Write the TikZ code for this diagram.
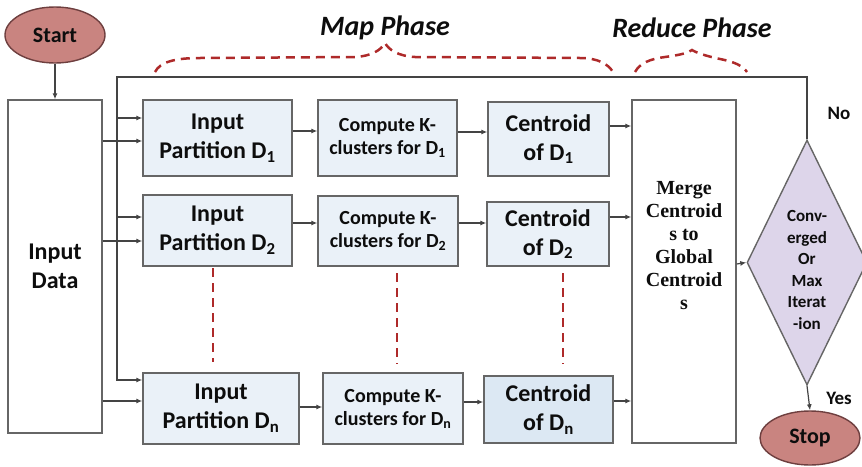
\documentclass[tikz,border=0pt]{standalone}
\usepackage{fontspec}
\setmainfont{Carlito}
\newfontfamily\serifb{Liberation Serif}
\usetikzlibrary{shapes.geometric,arrows.meta}
\definecolor{boxline}{HTML}{666666}
\definecolor{boxfill}{HTML}{EAF1F8}
\definecolor{boxfilln}{HTML}{DCE8F3}
\definecolor{termfill}{HTML}{C98480}
\definecolor{termline}{HTML}{6E3F3F}
\definecolor{diafill}{HTML}{DDD5EA}
\definecolor{lc}{HTML}{444444}
\definecolor{dred}{HTML}{AE2A2A}
\definecolor{txt}{HTML}{0D0D0D}
\begin{document}
\begin{tikzpicture}[x=1pt,y=-1pt,
  every node/.style={text=txt},
  box/.style={rectangle, draw=boxline, fill=boxfill, line width=1.4pt, inner sep=0pt, align=center,
              font=\bfseries\fontsize{24}{29}\selectfont},
  cbox/.style={box, font=\bfseries\fontsize{20}{23}\selectfont},
  wbox/.style={box, fill=white},
  term/.style={ellipse, draw=termline, fill=termfill, line width=1.4pt, inner sep=0pt,
               font=\bfseries\fontsize{22}{26}\selectfont},
  conn/.style={draw=lc, line width=1.2pt},
  arr/.style={conn, -{Latex[length=6pt,width=5pt]}},
  reddash/.style={draw=dred, line width=2.5pt, dash pattern=on 9pt off 6pt},
  brace/.style={draw=dred, line width=2.5pt, dash pattern=on 9pt off 6pt},
  phase/.style={font=\bfseries\itshape\fontsize{28}{32}\selectfont},
  lbl/.style={font=\bfseries\fontsize{19}{22}\selectfont}
]
\useasboundingbox (0,0) rectangle (862,466);

% terminals
\node[term, minimum width=100pt, minimum height=56pt] (start) at (55,35) {Start};
\node[term, minimum width=100pt, minimum height=54pt] (stop) at (810,438) {Stop};

% input data
\node[wbox, minimum width=94pt, minimum height=333pt] (inp) at (55,266.5) {Input\\Data};

% partitions
\node[box, minimum width=149pt, minimum height=76pt] (D1) at (217.5,138) {Input\\Partition D\textsubscript{1}};
\node[box, minimum width=149pt, minimum height=71pt] (D2) at (217.5,230.5) {Input\\Partition D\textsubscript{2}};
\node[box, minimum width=156pt, minimum height=71pt] (Dn) at (221,408.5) {Input\\Partition D\textsubscript{n}};

% compute
\node[cbox, minimum width=139pt, minimum height=76pt] (C1) at (387.5,138) {Compute K-\\clusters for D\textsubscript{1}};
\node[cbox, minimum width=140pt, minimum height=70pt] (C2) at (388,231) {Compute K-\\clusters for D\textsubscript{2}};
\node[cbox, minimum width=140pt, minimum height=71pt] (Cn) at (393,408.5) {Compute K-\\clusters for D\textsubscript{n}};

% centroids
\node[box, minimum width=121pt, minimum height=74pt] (E1) at (548.5,139) {Centroid\\of D\textsubscript{1}};
\node[box, minimum width=122pt, minimum height=64pt] (E2) at (548,234) {Centroid\\of D\textsubscript{2}};
\node[box, fill=boxfilln, minimum width=129pt, minimum height=67pt] (En) at (548.5,409.5) {Centroid\\of D\textsubscript{n}};

% merge
\node[wbox, minimum width=104pt, minimum height=343pt] (merge) at (684,271.5) {};
\node[align=center, font=\serifb\bfseries\fontsize{20}{23}\selectfont] (mt) at (684,246)
  {Merge\\Centroid\\s to\\Global\\Centroid\\s};

% decision
\node[diamond, draw=boxline, fill=diafill, line width=1.4pt, inner sep=0pt,
      minimum width=120pt, minimum height=245pt] (dia) at (807,262.5) {};
\node[align=center, font=\bfseries\fontsize{17}{21.5}\selectfont] (dt) at (807,270)
  {Conv-\\erged\\Or\\Max\\Iterat\\-ion};

% labels
\node[phase] (mp) at (385,28) {Map Phase};
\node[phase] (rp) at (692,28) {Reduce Phase};
\node[lbl] (no) at (839,113) {No};
\node[lbl] (yes) at (839,398) {Yes};

% connectors
\draw[arr] (start) -- (inp);
\draw[arr] (dia.north) |- (117,77) |- (Dn.west |- 0,380);
\draw[arr] (117,118) -- (D1.west |- 0,118);
\draw[arr] (117,217) -- (D2.west |- 0,217);
\draw[arr] (inp.east |- 0,141) -- (D1.west |- 0,141);
\draw[arr] (inp.east |- 0,241) -- (D2.west |- 0,241);
\draw[arr] (inp.east |- 0,401) -- (Dn.west |- 0,401);

\draw[arr] (D1.east |- 0,131) -- (C1.west |- 0,131);
\draw[arr] (C1.east |- 0,132) -- (E1.west |- 0,132);
\draw[arr] (E1.east |- 0,126) -- (merge.west |- 0,126);

\draw[arr] (D2.east |- 0,223) -- (C2.west |- 0,223);
\draw[arr] (C2.east |- 0,223) -- (E2.west |- 0,223);
\draw[arr] (E2.east |- 0,217) -- (merge.west |- 0,217);

\draw[arr] (Dn.east |- 0,407) -- (Cn.west |- 0,407);
\draw[arr] (Cn.east |- 0,402) -- (En.west |- 0,402);
\draw[arr] (En.east |- 0,401) -- (merge.west |- 0,401);

\draw[arr] (merge.east |- 0,264) -- (dia.west);
\draw[arr] (dia.south) -- (stop.north);

% red vertical dashes
\draw[reddash] (213,268) -- (213,362);
\draw[reddash] (397,273) -- (397,364);
\draw[reddash] (563,273) -- (563,364);

% braces
\draw[brace] (155,72) .. controls (160,62) and (175,58) .. (200,58) -- (355,57)
  .. controls (372,56) and (381,50) .. (385,43) .. controls (389,50) and (398,56) .. (415,57)
  -- (580,58) .. controls (598,58) and (608,64) .. (613,72);
\draw[brace] (635,72) .. controls (640,63) and (650,59) .. (665,57)
  .. controls (680,55) and (688,53) .. (692,50) .. controls (697,53) and (706,56) .. (720,59)
  .. controls (735,62) and (743,66) .. (747,72);
\end{tikzpicture}
\end{document}
